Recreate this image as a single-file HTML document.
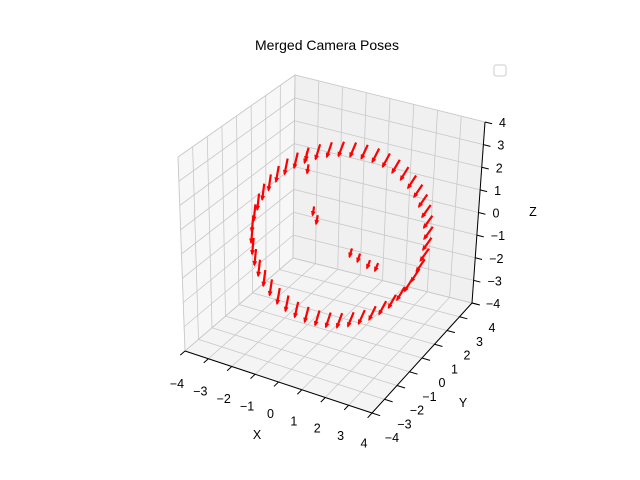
<!DOCTYPE html>
<html><head><meta charset="utf-8">
<style>
body{margin:0;background:#fff;}
svg{display:block;font-family:"Liberation Sans","DejaVu Sans",sans-serif;}
</style></head>
<body>
<svg id="chart" width="640" height="480" viewBox="0 0 640 480">
<rect width="640" height="480" fill="#fff"/>
<text x="327" y="50" font-size="14" text-anchor="middle">Merged Camera Poses</text>
<rect x="494" y="65" width="12" height="11" rx="2" fill="#fff" stroke="#ccc"/>
<g id="panes"></g><g id="grid"></g><g id="axes"></g><g id="marks"></g>
<text x="257" y="439" font-size="12.5" text-anchor="middle">X</text>
<text x="463" y="407" font-size="12.5" text-anchor="middle">Y</text>
<text x="533" y="216" font-size="12.5" text-anchor="middle">Z</text>
</svg>
<script>
// camera positions (ring + a few inner ones)
const camX = [3.4,3.37,3.30,3.18,3.01,2.80,2.55,2.27,1.95,1.61,1.25,0.88,0.5,0.12,-0.25,-0.61,-0.95,-1.27,-1.55,-1.80,-2.01,-2.18,-2.30,-2.37,-2.4,-2.37,-2.30,-2.18,-2.01,-1.80,-1.55,-1.27,-0.95,-0.61,-0.25,0.12,0.5,0.88,1.25,1.61,1.95,2.27,2.55,2.80,3.01,3.18,3.30,3.37,-2.0,-2.0,-1.8,-1.7,-0.6,-0.3,0.2,0.5];
const camY = [1.6,1.59,1.55,1.48,1.39,1.27,1.13,0.97,0.80,0.61,0.41,0.21,0,-0.21,-0.41,-0.61,-0.80,-0.97,-1.13,-1.27,-1.39,-1.48,-1.55,-1.59,-1.6,-1.59,-1.55,-1.48,-1.39,-1.27,-1.13,-0.97,-0.80,-0.61,-0.41,-0.21,0,0.21,0.41,0.61,0.80,0.97,1.13,1.27,1.39,1.48,1.55,1.59,1.6,1.7,1.8,1.9,2.6,2.7,2.6,2.7];
const camZ = [0.5,0.97,1.43,1.88,2.30,2.69,3.05,3.36,3.62,3.83,3.98,4.07,4.1,4.07,3.98,3.83,3.62,3.36,3.05,2.69,2.30,1.88,1.43,0.97,0.5,0.03,-0.43,-0.88,-1.30,-1.69,-2.05,-2.36,-2.62,-2.83,-2.98,-3.07,-3.1,-3.07,-2.98,-2.83,-2.62,-2.36,-2.05,-1.69,-1.30,-0.88,-0.43,0.03,2.3,1.7,-0.1,-0.5,-2.0,-2.2,-2.3,-2.4];
const ticks = [-4,-3,-2,-1,0,1,2,3,4];
const tickLabels = ['−4','−3','−2','−1','0','1','2','3','4'];

const NS='http://www.w3.org/2000/svg';
const C = {
 '-1-1-1':[185,351],'-1-1,1':[178,157],
 '1-1-1':[372,413],'1-1,1':[370,210],
 '1,1-1':[472,303],'1,1,1':[485,122],
 '-1,1-1':[293,258],'-1,1,1':[295,75]};
function corner(a,b,c){return C[(a<0?'-1':'1')+(b<0?'-1':',1')+(c<0?'-1':',1')];}
function P(x,y,z){
 const u=(x+4)/8,v=(y+4)/8,w=(z+4)/8;
 let sx=0,sy=0;
 for(const a of [0,1])for(const b of [0,1])for(const c of [0,1]){
  const wt=(a?u:1-u)*(b?v:1-v)*(c?w:1-w);
  const p=corner(a?1:-1,b?1:-1,c?1:-1);
  sx+=wt*p[0];sy+=wt*p[1];
 }
 return [sx,sy];
}
function el(tag,attrs,parent){const e=document.createElementNS(NS,tag);for(const k in attrs)e.setAttribute(k,attrs[k]);parent.appendChild(e);return e;}
function poly(pts){return pts.map(p=>p.join(',')).join(' ');}
const panes=document.getElementById('panes'),grid=document.getElementById('grid'),axes=document.getElementById('axes'),marks=document.getElementById('marks');
let e;
e=el('polygon',{points:poly([P(-4,-4,-4),P(-4,4,-4),P(-4,4,4),P(-4,-4,4)]),fill:'#f7f7f7',stroke:'#e6e6e6'},panes);


e=el('polygon',{points:poly([P(-4,4,-4),P(4,4,-4),P(4,4,4),P(-4,4,4)]),fill:'#f0f0f0',stroke:'#e6e6e6'},panes);


e=el('polygon',{points:poly([P(-4,-4,-4),P(4,-4,-4),P(4,4,-4),P(-4,4,-4)]),fill:'#f4f4f4',stroke:'#e6e6e6'},panes);


function gl(a,b){const l=el('line',{x1:a[0],y1:a[1],x2:b[0],y2:b[1],stroke:'#c8c8c8','stroke-width':0.8},grid);
 
 }
ticks.forEach(t=>{
 gl(P(-4,t,-4),P(-4,t,4)); gl(P(-4,-4,t),P(-4,4,t));
 gl(P(t,4,-4),P(t,4,4)); gl(P(-4,4,t),P(4,4,t));
 gl(P(t,-4,-4),P(t,4,-4)); gl(P(-4,t,-4),P(4,t,-4));
});
function al(a,b,name){const l=el('line',{x1:a[0],y1:a[1],x2:b[0],y2:b[1],stroke:'#000','stroke-width':1},axes);
 
 }
al(P(-4,-4,-4),P(4,-4,-4),'x-axis-line');
al(P(4,-4,-4),P(4,4,-4),'y-axis-line');
al(P(4,4,-4),P(4,4,4),'z-axis-line');
function lab(x,y,s,name,anchor){const t=el('text',{x:x,y:y,'font-size':12.5,'text-anchor':anchor||'middle'},axes);t.textContent=s;
 
 }
ticks.forEach((t,i)=>{
 let a=P(t,-4,-4),b=P(t,-4.35,-4);al(a,b,'x-tick');
 lab(a[0]-8,a[1]+37-i*0.3,tickLabels[i],'x-tick-label');
 a=P(4,t,-4);b=P(4.35,t,-4);al(a,b,'y-tick');
 lab(a[0]+20,a[1]+29,tickLabels[i],'y-tick-label');
 a=P(4,4,t);b=P(4.3,4,t);al(a,b,'z-tick');
 lab(a[0]+14,a[1]+5,tickLabels[i],'z-tick-label','start');
});
const order=camX.map((_,i)=>i).sort((a,b)=>camY[b]-camY[a]);
order.forEach(i=>{
 const x=camX[i],y=camY[i],z=camZ[i];
 const inner=i>=48;
 const L=inner?0.4:0.7;
 let dx=-0.3-0.08*x,dz=-1,n=Math.hypot(dx,dz);dx=dx/n*L;dz=dz/n*L;
 const s=P(x,y,z),t=P(x+dx,y,z+dz);
 const g=el('g',{},marks);
 
 
 el('line',{x1:s[0],y1:s[1],x2:t[0],y2:t[1],stroke:'#ff0000','stroke-width':2.2},g);
 const vx=t[0]-s[0],vy=t[1]-s[1],m=Math.hypot(vx,vy)||1,ux=vx/m,uy=vy/m,h=4;
 el('polygon',{points:poly([[t[0]+ux*1.5,t[1]+uy*1.5],[t[0]-ux*h-uy*2.4,t[1]-uy*h+ux*2.4],[t[0]-ux*h+uy*2.4,t[1]-uy*h-ux*2.4]]),fill:'#ff0000'},g);
});
</script>
</body></html>
